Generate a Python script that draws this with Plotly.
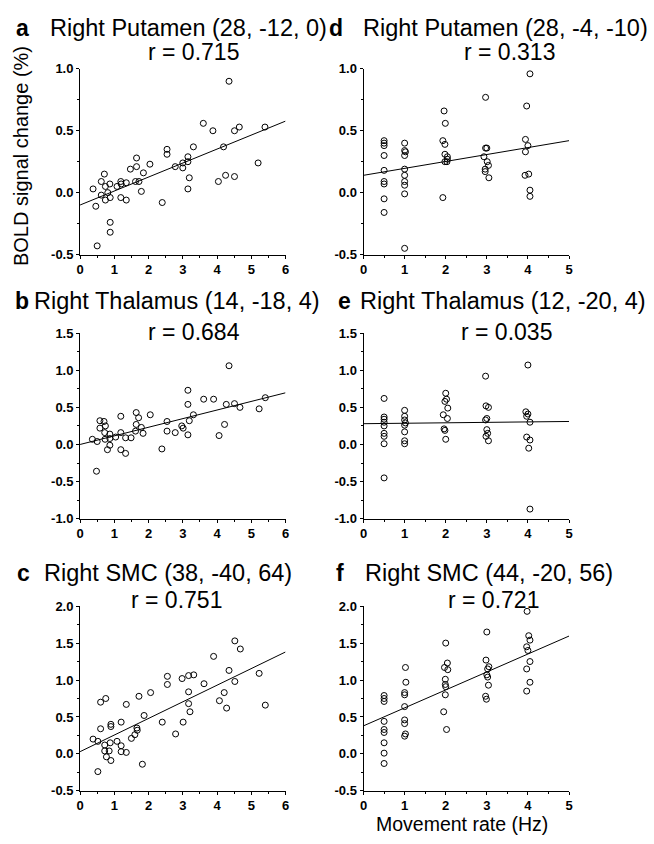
import plotly.graph_objects as go

W, H = 654, 844

# ---------------- data ----------------
xa = [0.38, 0.62, 0.46, 0.71, 0.74, 0.62, 0.74, 0.87, 0.81, 0.88, 0.88, 0.88, 0.50, 1.08, 1.19,
      1.19, 1.35, 1.35, 1.20, 1.47, 1.65, 1.65, 1.62, 1.72, 1.79, 1.85, 2.04, 2.40, 2.54, 2.54,
      2.78, 3.00, 3.00, 3.15, 3.15, 3.19, 3.15, 3.31, 3.60, 3.88, 4.04, 4.19, 4.25, 4.35, 4.51,
      4.51, 4.65, 5.20, 5.40]
ya = [0.03, 0.09, -0.11, 0.15, 0.05, -0.02, -0.06, 0.07, 0.00, -0.04, -0.24, -0.32, -0.43, 0.05, 0.09,
      -0.04, -0.06, 0.08, 0.07, 0.19, 0.28, 0.21, 0.09, 0.09, 0.01, 0.16, 0.23, -0.08, 0.35, 0.31,
      0.21, 0.24, 0.20, 0.29, 0.25, 0.12, 0.03, 0.37, 0.56, 0.50, 0.09, 0.37, 0.14, 0.90, 0.50,
      0.13, 0.53, 0.24, 0.53]

xb = [0.36, 0.50, 0.48, 0.58, 0.58, 0.70, 0.74, 0.72, 0.73, 0.80, 0.87, 0.87, 0.87, 1.04, 1.19,
      1.19, 1.19, 1.33, 1.33, 1.49, 1.62, 1.64, 1.64, 1.71, 1.79, 1.84, 2.05, 2.39, 2.54, 2.54,
      2.78, 2.97, 3.01, 3.15, 3.15, 3.15, 3.19, 3.31, 3.61, 3.90, 4.06, 4.22, 4.27, 4.35, 4.51,
      4.67, 5.23, 5.41]
yb = [0.07, 0.04, -0.36, 0.32, 0.22, 0.31, 0.25, 0.16, 0.07, -0.07, 0.14, 0.08, -0.01, 0.10, 0.38,
      0.16, -0.07, -0.12, 0.09, 0.09, 0.18, 0.43, 0.27, 0.36, 0.23, 0.15, 0.40, -0.06, 0.31, 0.18,
      0.16, 0.25, 0.22, 0.73, 0.54, 0.13, 0.32, 0.40, 0.61, 0.61, 0.12, 0.27, 0.54, 1.06, 0.55,
      0.50, 0.48, 0.63]

xc = [0.38, 0.52, 0.52, 0.60, 0.60, 0.75, 0.72, 0.72, 0.77, 0.85, 0.88, 0.90, 0.90, 0.90, 1.08,
      1.20, 1.20, 1.20, 1.35, 1.35, 1.50, 1.60, 1.66, 1.67, 1.72, 1.82, 1.87, 2.06, 2.40, 2.55,
      2.55, 2.79, 2.98, 3.01, 3.17, 3.17, 3.17, 3.21, 3.32, 3.62, 3.90, 4.07, 4.21, 4.28, 4.35,
      4.52, 4.52, 4.68, 5.23, 5.41]
yc = [0.20, 0.17, -0.24, 0.70, 0.34, 0.75, 0.12, 0.04, -0.04, 0.04, 0.15, 0.40, 0.37, -0.09, 0.17,
      0.43, 0.11, 0.03, 0.67, 0.02, 0.21, 0.26, 0.35, 0.32, 0.78, -0.14, 0.52, 0.83, 0.43, 1.05,
      0.94, 0.27, 1.02, 0.43, 1.06, 0.84, 0.68, 0.57, 1.07, 0.95, 1.32, 0.72, 0.83, 0.62, 1.13,
      1.53, 0.98, 1.42, 1.09, 0.66]

xd = [0.5, 0.5, 0.5, 0.5, 0.5, 0.5, 0.5, 0.5, 0.5,
      1.0, 1.0, 1.02, 1.0, 1.0, 1.0, 1.0, 1.0, 1.0, 1.0,
      1.96, 1.99, 1.93, 1.98, 1.98, 2.04, 2.04, 2.03, 1.98, 1.93,
      2.97, 2.97, 3.0, 2.93, 3.01, 3.04, 2.96, 2.96, 3.05,
      4.05, 3.97, 3.94, 4.0, 3.94, 3.93, 4.02, 4.05, 4.05]
yd = [0.42, 0.40, 0.38, 0.30, 0.18, 0.09, 0.07, -0.05, -0.16,
      0.40, 0.34, 0.33, 0.30, 0.19, 0.14, 0.09, 0.06, -0.01, -0.45,
      0.66, 0.56, 0.42, 0.39, 0.31, 0.29, 0.27, 0.25, 0.25, -0.04,
      0.77, 0.36, 0.36, 0.29, 0.25, 0.22, 0.19, 0.17, 0.12,
      0.96, 0.70, 0.43, 0.38, 0.33, 0.14, 0.15, 0.02, -0.03]

xe = [0.5, 0.5, 0.5, 0.5, 0.5, 0.5, 0.5, 0.5, 0.5,
      1.0, 1.0, 1.0, 1.02, 1.0, 1.0, 1.0, 1.0,
      2.0, 2.02, 1.98, 2.05, 1.94, 2.04, 1.96, 1.98, 2.0,
      2.97, 2.98, 3.04, 3.0, 2.97, 3.0, 3.02, 2.98, 3.04,
      4.0, 3.95, 4.0, 3.97, 4.05, 3.97, 4.05, 4.02, 4.05]
ye = [0.62, 0.37, 0.34, 0.30, 0.25, 0.15, 0.11, 0.01, -0.45,
      0.46, 0.38, 0.33, 0.29, 0.26, 0.17, 0.05, 0.01,
      0.69, 0.61, 0.58, 0.49, 0.40, 0.35, 0.21, 0.19, 0.07,
      0.92, 0.52, 0.50, 0.35, 0.33, 0.20, 0.15, 0.11, 0.05,
      1.07, 0.44, 0.41, 0.38, 0.30, 0.10, 0.06, -0.05, -0.87]

xf = [0.5, 0.5, 0.5, 0.5, 0.5, 0.5, 0.5, 0.5, 0.5,
      1.02, 1.03, 1.0, 1.0, 1.0, 1.0, 1.0, 1.02, 1.0,
      2.0, 2.04, 1.97, 2.05, 1.99, 1.99, 2.0, 1.99, 1.95, 2.02,
      3.0, 2.98, 3.05, 3.02, 3.0, 3.02, 3.04, 2.97, 2.99,
      3.98, 4.02, 4.05, 3.97, 4.0, 4.05, 3.97, 4.05, 3.97]
yf = [0.79, 0.75, 0.71, 0.44, 0.33, 0.29, 0.15, 0.01, -0.13,
      1.17, 0.97, 0.83, 0.80, 0.64, 0.46, 0.41, 0.27, 0.24,
      1.50, 1.23, 1.17, 1.14, 1.01, 0.94, 0.91, 0.80, 0.57, 0.33,
      1.65, 1.27, 1.18, 1.15, 1.07, 1.04, 0.93, 0.78, 0.74,
      1.93, 1.60, 1.54, 1.45, 1.40, 1.25, 1.15, 0.97, 0.85]

panel_letters = ["a", "b", "c", "d", "e", "f"]
panel_regions = ["Right Putamen (28, -12, 0)", "Right Thalamus (14, -18, 4)", "Right SMC (38, -40, 64)",
                 "Right Putamen (28, -4, -10)", "Right Thalamus (12, -20, 4)", "Right SMC (44, -20, 56)"]
panel_r = ["r = 0.715", "r = 0.684", "r = 0.751", "r = 0.313", "r = 0.035", "r = 0.721"]
fit_intercept = [-0.10, 0.00, 0.03, 0.14, 0.28, 0.38]
fit_slope = [0.113, 0.116, 0.225, 0.056, 0.006, 0.243]
x_max = [6, 6, 6, 5, 5, 5]
y_ranges = [(-0.5, 1.0), (-1.0, 1.5), (-0.5, 2.0), (-0.5, 1.0), (-1.0, 1.5), (-0.5, 2.0)]
y_tickvals = [[-0.5, 0.0, 0.5, 1.0], [-1.0, -0.5, 0.0, 0.5, 1.0, 1.5], [-0.5, 0.0, 0.5, 1.0, 1.5, 2.0]] * 2
y_ticktext = [["-0.5", "0.0", "0.5", "1.0"], ["-1.0", "-0.5", "0.0", "0.5", "1.0", "1.5"],
              ["-0.5", "0.0", "0.5", "1.0", "1.5", "2.0"]] * 2
y_title = "BOLD signal change (%)"
x_title = "Movement rate (Hz)"

xs = [xa, xb, xc, xd, xe, xf]
ys = [ya, yb, yc, yd, ye, yf]

# ---------------- layout geometry (pixels) ----------------
col_x = [(77, 285), (364, 572)]
row_y = [(63, 252), (332, 521), (610, 798)]
title_y = [21, 299, 576]
r_y = [46, 331, 604]
letter_x = [[10, 9, 11], [327, 336, 334]]
region_x = [[45, 28, 38], [361, 358, 363]]
r_x = [[192, 192, 175], [512, 509, 496]]

FONT = "Liberation Sans, Arial, Helvetica, sans-serif"


def px_x(p):
    return p / W


def px_y(p):
    return 1 - p / H


fig = go.Figure()
annotations = []

for i in range(6):
    col, row = divmod(i, 3)
    n = i + 1
    xref = "x" if n == 1 else f"x{n}"
    yref = "y" if n == 1 else f"y{n}"
    xaxis_name = "xaxis" if n == 1 else f"xaxis{n}"
    yaxis_name = "yaxis" if n == 1 else f"yaxis{n}"

    fig.add_trace(go.Scatter(
        x=xs[i], y=ys[i], mode="markers", xaxis=xref, yaxis=yref,
        marker=dict(symbol="circle-open", size=6, color="black", line=dict(width=1, color="black")),
        showlegend=False, cliponaxis=False, hoverinfo="skip"))
    lx = [0, x_max[i]]
    ly = [fit_intercept[i] + fit_slope[i] * v for v in lx]
    fig.add_trace(go.Scatter(
        x=lx, y=ly, mode="lines", xaxis=xref, yaxis=yref,
        line=dict(color="black", width=1), showlegend=False, hoverinfo="skip"))

    x0, x1 = col_x[col]
    y0, y1 = row_y[row]
    fig.layout[xaxis_name] = dict(
        domain=[px_x(x0), px_x(x1)], range=[0, x_max[i]], anchor=yref,
        showline=True, linecolor="black", linewidth=1, showgrid=False, zeroline=False,
        ticks="outside", ticklen=3, tickcolor="black", tickwidth=1, dtick=1, tick0=0,
        minor=dict(dtick=0.5, ticks="outside", ticklen=2, tickcolor="black", showgrid=False),
        tickfont=dict(family=FONT, size=13, color="black", weight="bold"), fixedrange=True)
    fig.layout[yaxis_name] = dict(
        domain=[px_y(y1), px_y(y0)], range=list(y_ranges[i]), anchor=xref,
        showline=True, linecolor="black", linewidth=1, showgrid=False, zeroline=False,
        ticks="outside", ticklen=3, tickcolor="black", tickwidth=1,
        tickvals=y_tickvals[i], ticktext=y_ticktext[i],
        minor=dict(tickvals=[v + 0.25 for v in y_tickvals[i][:-1]], ticks="outside", ticklen=2,
                   tickcolor="black", showgrid=False),
        tickfont=dict(family=FONT, size=13, color="black", weight="bold"), fixedrange=True)

    annotations.append(dict(text=f"<b>{panel_letters[i]}</b>", x=px_x(letter_x[col][row]), y=px_y(title_y[row]),
                            xref="paper", yref="paper", xanchor="left", yanchor="middle", showarrow=False,
                            font=dict(family=FONT, size=23, color="black")))
    annotations.append(dict(text=panel_regions[i], x=px_x(region_x[col][row]), y=px_y(title_y[row]),
                            xref="paper", yref="paper", xanchor="left", yanchor="middle", showarrow=False,
                            font=dict(family=FONT, size=23.5, color="black")))
    annotations.append(dict(text=panel_r[i], x=px_x(r_x[col][row]), y=px_y(r_y[row]),
                            xref="paper", yref="paper", xanchor="center", yanchor="middle", showarrow=False,
                            font=dict(family=FONT, size=23, color="black")))

annotations.append(dict(text=y_title, x=px_x(18), y=px_y(152), xref="paper", yref="paper",
                        xanchor="center", yanchor="middle", textangle=-90, showarrow=False,
                        font=dict(family=FONT, size=20, color="black")))
annotations.append(dict(text=x_title, x=px_x(464), y=0, xref="paper", yref="paper",
                        xanchor="center", yanchor="bottom", showarrow=False, borderpad=0,
                        font=dict(family=FONT, size=19.5, color="black")))

fig.update_layout(width=W, height=H, margin=dict(l=0, r=0, t=0, b=0),
                  paper_bgcolor="white", plot_bgcolor="white", annotations=annotations)

fig.write_html("out.html", config=dict(displayModeBar=False))
